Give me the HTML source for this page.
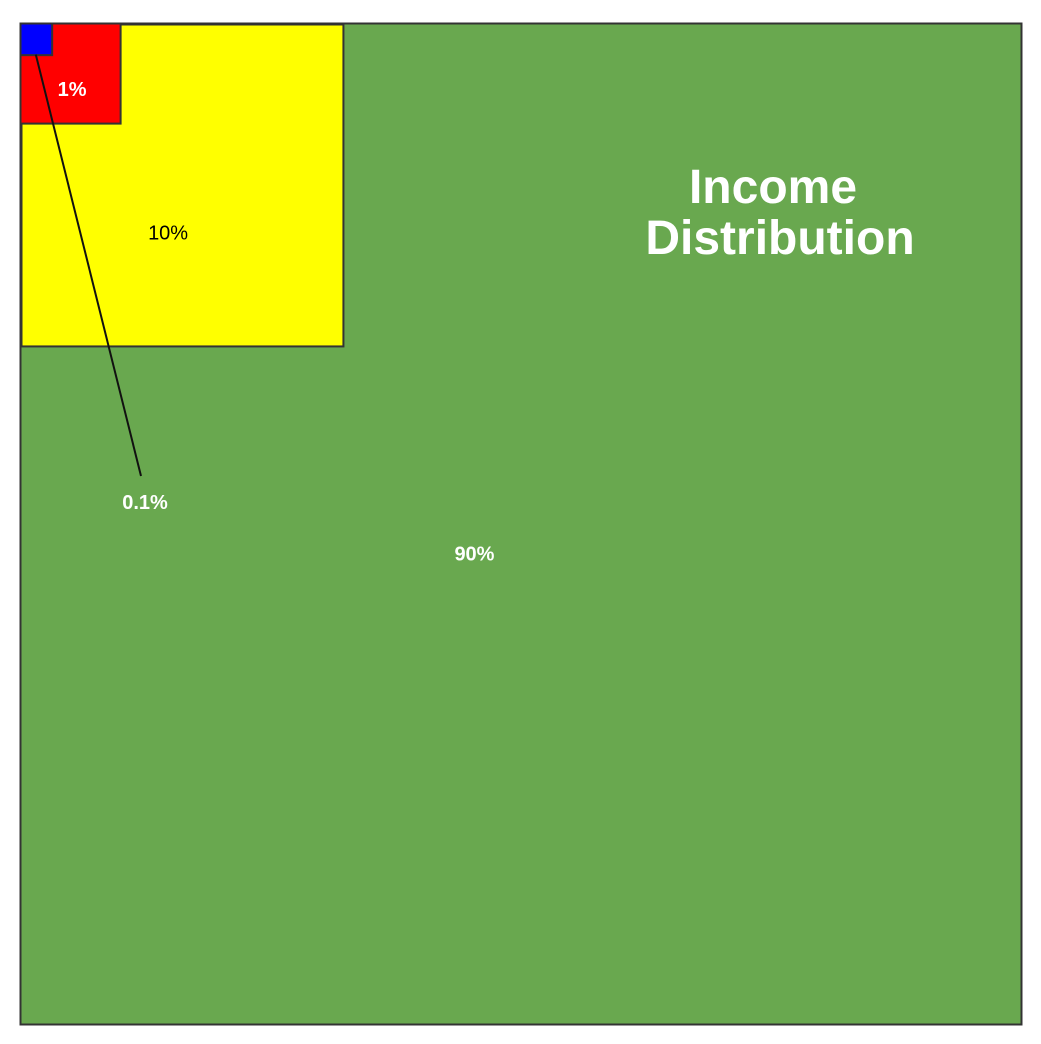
<!DOCTYPE html>
<html><head><meta charset="utf-8"><style>
html,body{margin:0;padding:0;background:#fff;}
svg{display:block;font-family:"Liberation Sans",Arial,sans-serif;}
</style></head><body>
<svg id="chart" width="1041" height="1044" viewBox="0 0 1041 1044"></svg>
<script>
const categories = ["90%", "10%", "1%", "0.1%"];
const shares = [1, 0.1, 0.01, 0.001];
const colors = ["#69a84f", "#ffff00", "#ff0000", "#0000ff"];
const labelColors = ["#fff", "#000", "#fff", "#fff"];

const NS = "http://www.w3.org/2000/svg";
const svg = document.getElementById("chart");
const x0 = 20, y0 = 23, full = 1001;
function side(v){ return Math.sqrt(v) * full * (v === 0.1 ? 1.017 : 1); }
function mk(tag, attrs){ const e = document.createElementNS(NS, tag); for (const k in attrs) e.setAttribute(k, attrs[k]); svg.appendChild(e); return e; }

shares.forEach((v, i) => {
  const s = side(v);
  const off = (v === 0.1) ? 1.5 : 0.5;
  const r = mk("rect", {x: x0 + off, y: y0 + off, width: s, height: s, fill: colors[i], stroke: "#333", "stroke-width": 2});
  
  
});

function label(i, x, y, bold){
  const t = mk("text", {x: x, y: y, "text-anchor": "middle", "font-size": 20, fill: labelColors[i], "font-weight": bold ? "bold" : "normal"});
  t.textContent = categories[i];
  
  
  return t;
}
const s0 = side(shares[0]), s1 = side(shares[1]), s2 = side(shares[2]), s3 = side(shares[3]);
label(0, x0 + s0 * 0.454, y0 + s0 * 0.537, true);
label(1, x0 + s1 * 0.46, y0 + s1 * 0.66 + 4, false);
label(2, x0 + s2 * 0.52, y0 + s2 * 0.73, true);
const ln = mk("line", {x1: x0 + s3 / 2, y1: y0 + s3, x2: 141, y2: 476, stroke: "#111", "stroke-width": 2});


label(3, 145, 509, true);

const title = mk("text", {x: 780, "text-anchor": "middle", "font-size": 48, "font-weight": "bold", fill: "#fff"});


["Income", "Distribution"].forEach((w, i) => {
  const ts = document.createElementNS(NS, "tspan");
  ts.setAttribute("x", i === 0 ? 773 : 780);
  ts.setAttribute("y", i === 0 ? 203 : 254);
  ts.textContent = w;
  title.appendChild(ts);
});
</script>
</body></html>
